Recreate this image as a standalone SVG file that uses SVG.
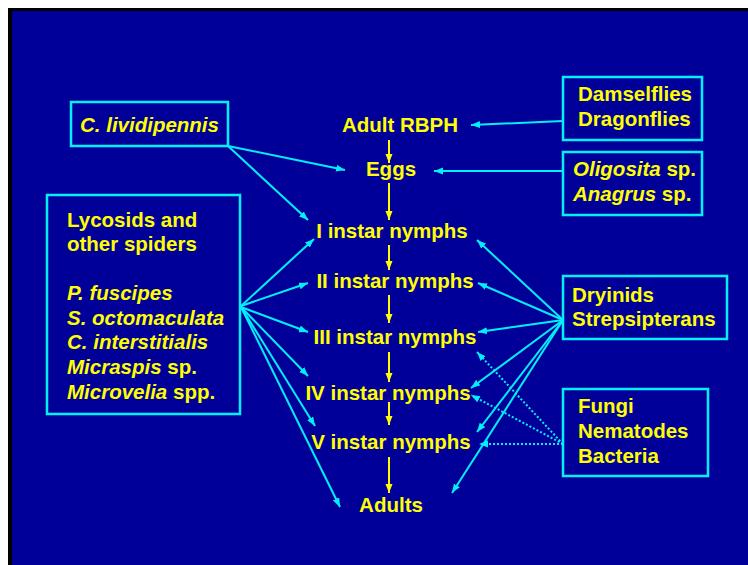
<svg xmlns="http://www.w3.org/2000/svg" width="748" height="565" viewBox="0 0 748 565">
<defs>
<style>
.t{font-family:"Liberation Sans",Arial,sans-serif;font-weight:bold;font-size:20.5px;fill:#FFFF00}
.c{text-anchor:middle}
.i{font-style:italic}
.box{fill:none;stroke:#00F0FF;stroke-width:2.5}
.cy{stroke:#00F0FF;stroke-width:2;fill:none;marker-end:url(#ac)}
.dot{stroke:#00F0FF;stroke-width:2;fill:none;stroke-dasharray:2 2;marker-end:url(#ac)}
.ye{stroke:#FFFF00;stroke-width:2;fill:none;marker-end:url(#ay)}
</style>
<marker id="ac" markerUnits="userSpaceOnUse" markerWidth="10" markerHeight="8" refX="9" refY="3.5" orient="auto"><path d="M0,0 L9,3.5 L0,7 Z" fill="#00F0FF"/></marker>
<marker id="ay" markerUnits="userSpaceOnUse" markerWidth="10" markerHeight="8" refX="9" refY="3.5" orient="auto"><path d="M0,0 L9,3.5 L0,7 Z" fill="#FFFF00"/></marker>
</defs>
<rect x="0" y="0" width="748" height="565" fill="#FFFFFF"/>
<rect x="8" y="8" width="740" height="557" fill="#000000"/>
<rect x="12" y="11" width="736" height="554" fill="#000099"/>

<g id="connectors">
<line class="ye" x1="389" y1="140" x2="389" y2="163"/>
<line class="ye" x1="389" y1="183" x2="389" y2="220"/>
<line class="ye" x1="389" y1="245" x2="389" y2="270"/>
<line class="ye" x1="389" y1="295" x2="389" y2="323"/>
<line class="ye" x1="389" y1="352" x2="389" y2="382"/>
<line class="ye" x1="389" y1="402" x2="389" y2="425"/>
<line class="ye" x1="389" y1="457" x2="389" y2="493"/>

<line class="cy" x1="563" y1="121" x2="471" y2="125"/>
<line class="cy" x1="563" y1="171" x2="434" y2="171"/>
<line class="cy" x1="228" y1="146" x2="345" y2="170"/>
<line class="cy" x1="228" y1="146" x2="308" y2="220"/>

<line class="cy" x1="241" y1="306" x2="314" y2="239"/>
<line class="cy" x1="241" y1="306" x2="308" y2="283"/>
<line class="cy" x1="241" y1="307" x2="308" y2="332"/>
<line class="cy" x1="241" y1="307" x2="308" y2="376"/>
<line class="cy" x1="241" y1="307" x2="315" y2="426"/>
<line class="cy" x1="241" y1="307" x2="340" y2="507"/>

<line class="cy" x1="563" y1="320" x2="477" y2="240"/>
<line class="cy" x1="563" y1="320" x2="478" y2="283"/>
<line class="cy" x1="563" y1="320" x2="478" y2="332"/>
<line class="cy" x1="563" y1="320" x2="471" y2="388"/>
<line class="cy" x1="563" y1="320" x2="477" y2="432"/>
<line class="cy" x1="563" y1="320" x2="452" y2="493"/>

<line class="dot" x1="563" y1="444" x2="477" y2="352"/>
<line class="dot" x1="563" y1="444" x2="471" y2="395"/>
<line class="dot" x1="563" y1="444" x2="479" y2="444"/>
</g>

<g id="adult-rbph"><text class="t c" x="400" y="132">Adult RBPH</text></g>
<g id="eggs"><text class="t c" x="391" y="176">Eggs</text></g>
<g id="instar1"><text class="t c" x="392" y="238">I instar nymphs</text></g>
<g id="instar2"><text class="t c" x="395" y="288">II instar nymphs</text></g>
<g id="instar3"><text class="t c" x="395" y="344">III instar nymphs</text></g>
<g id="instar4"><text class="t c" x="388" y="400">IV instar nymphs</text></g>
<g id="instar5"><text class="t c" x="391" y="449">V instar nymphs</text></g>
<g id="adults"><text class="t c" x="391" y="512">Adults</text></g>

<g id="lividipennis">
<rect class="box" x="71" y="102" width="157" height="44"/>
<text class="t i" x="80" y="132">C. lividipennis</text>
</g>

<g id="spiders">
<rect class="box" x="47" y="195" width="193" height="219"/>
<text class="t" x="67" y="227">Lycosids and</text>
<text class="t" x="67" y="251">other spiders</text>
<text class="t i" x="67" y="300">P. fuscipes</text>
<text class="t i" x="67" y="325">S. octomaculata</text>
<text class="t i" x="67" y="349">C. interstitialis</text>
<text class="t" x="67" y="374"><tspan class="i">Micraspis</tspan> sp.</text>
<text class="t" x="67" y="399"><tspan class="i">Microvelia</tspan> spp.</text>
</g>

<g id="odonata">
<rect class="box" x="563" y="77" width="139" height="63"/>
<text class="t" x="578" y="101">Damselflies</text>
<text class="t" x="578" y="126">Dragonflies</text>
</g>

<g id="egg-parasitoids">
<rect class="box" x="563" y="152" width="139" height="63"/>
<text class="t" x="573" y="176"><tspan class="i">Oligosita</tspan> sp.</text>
<text class="t" x="573" y="201"><tspan class="i">Anagrus</tspan> sp.</text>
</g>

<g id="dryinids">
<rect class="box" x="563" y="276" width="164" height="63"/>
<text class="t" x="572" y="302">Dryinids</text>
<text class="t" x="572" y="326">Strepsipterans</text>
</g>

<g id="pathogens">
<rect class="box" x="563" y="389" width="145" height="87"/>
<text class="t" x="578" y="413">Fungi</text>
<text class="t" x="578" y="438">Nematodes</text>
<text class="t" x="578" y="463">Bacteria</text>
</g>
</svg>
